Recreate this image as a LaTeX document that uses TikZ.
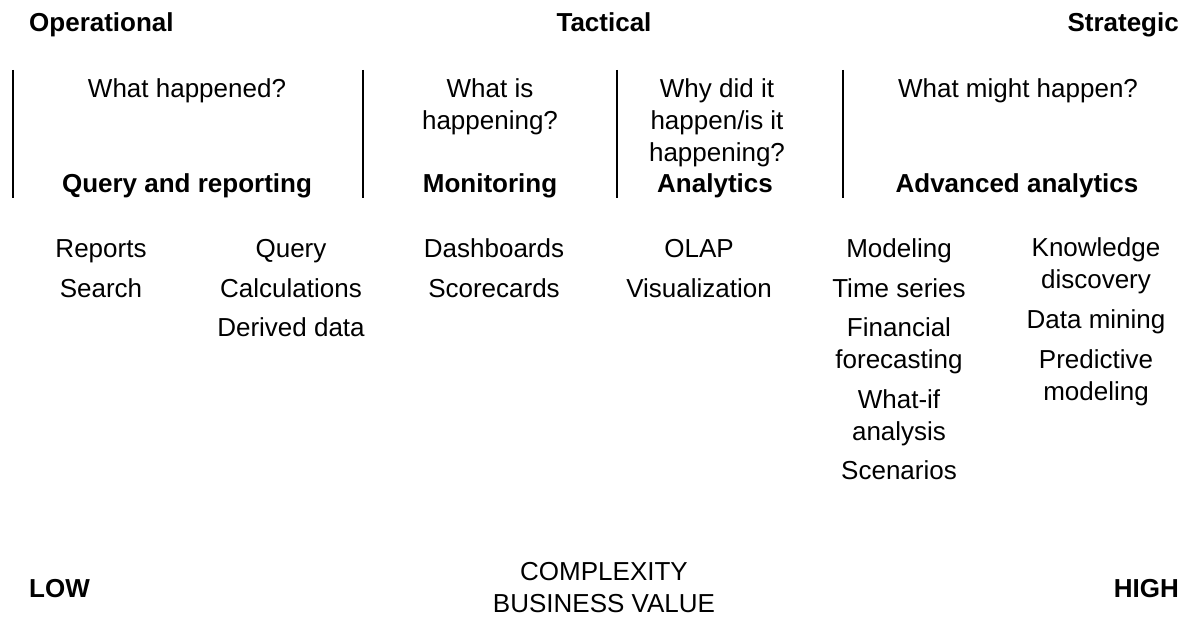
\documentclass[tikz,border=0pt]{standalone}
\usepackage{fontspec}
\setmainfont{Liberation Sans}
\begin{document}
\begin{tikzpicture}[x=1pt,y=-1pt,
  txt/.style={inner sep=0pt,anchor=base,align=center,font=\fontsize{26}{32}\selectfont},
  hd/.style={txt,font=\fontsize{26}{32}\selectfont\bfseries},
  sep/.style={line width=2pt}]
\useasboundingbox (0,0) rectangle (1188,618);
% top scale
\node[hd,anchor=base west] (op) at (29,32) {Operational};
\node[hd] (tac) at (604,32) {Tactical};
\node[hd,anchor=base east] (str) at (1179,32) {Strategic};
% separators
\coordinate (s0t) at (13,70); \coordinate (s0b) at (13,198);
\coordinate (s1t) at (363,70); \coordinate (s1b) at (363,198);
\coordinate (s2t) at (617,70); \coordinate (s2b) at (617,198);
\coordinate (s3t) at (843,70); \coordinate (s3b) at (843,198);
\draw[sep] (s0t) -- (s0b);
\draw[sep] (s1t) -- (s1b);
\draw[sep] (s2t) -- (s2b);
\draw[sep] (s3t) -- (s3b);
% questions (base = last line)
\node[txt] (q1) at (187,97) {What happened?};
\node[txt] (q2) at (490,129) {What is\\happening?};
\node[txt] (q3) at (717,161) {Why did it\\happen/is it\\happening?};
\node[txt] (q4) at (1018,97) {What might happen?};
% categories
\node[hd] (c1) at (187,192) {Query and reporting};
\node[hd] (c2) at (490,192) {Monitoring};
\node[hd] (c3) at (715,192) {Analytics};
\node[hd] (c4) at (1017,192) {Advanced analytics};
% items
\node[txt] (reports) at (101,257) {Reports};
\node[txt] (search) at (101,297) {Search};
\node[txt] (query) at (291,257) {Query};
\node[txt] (calc) at (291,297) {Calculations};
\node[txt] (derived) at (291,336) {Derived data};
\node[txt] (dash) at (494,257) {Dashboards};
\node[txt] (score) at (494,297) {Scorecards};
\node[txt] (olap) at (699,257) {OLAP};
\node[txt] (vis) at (699,297) {Visualization};
\node[txt] (model) at (899,257) {Modeling};
\node[txt] (ts) at (899,297) {Time series};
\node[txt] (fin) at (899,368) {Financial\\forecasting};
\node[txt] (whatif) at (899,440) {What-if\\analysis};
\node[txt] (scen) at (899,479) {Scenarios};
\node[txt] (know) at (1096,288) {Knowledge\\discovery};
\node[txt] (mining) at (1096,328) {Data mining};
\node[txt] (pred) at (1096,400) {Predictive\\modeling};
% bottom scale
\node[hd,anchor=base west] (low) at (29,597) {LOW};
\node[txt] (cx) at (604,612) {COMPLEXITY\\BUSINESS VALUE};
\node[hd,anchor=base east] (high) at (1179,597) {HIGH};
\end{tikzpicture}
\end{document}
